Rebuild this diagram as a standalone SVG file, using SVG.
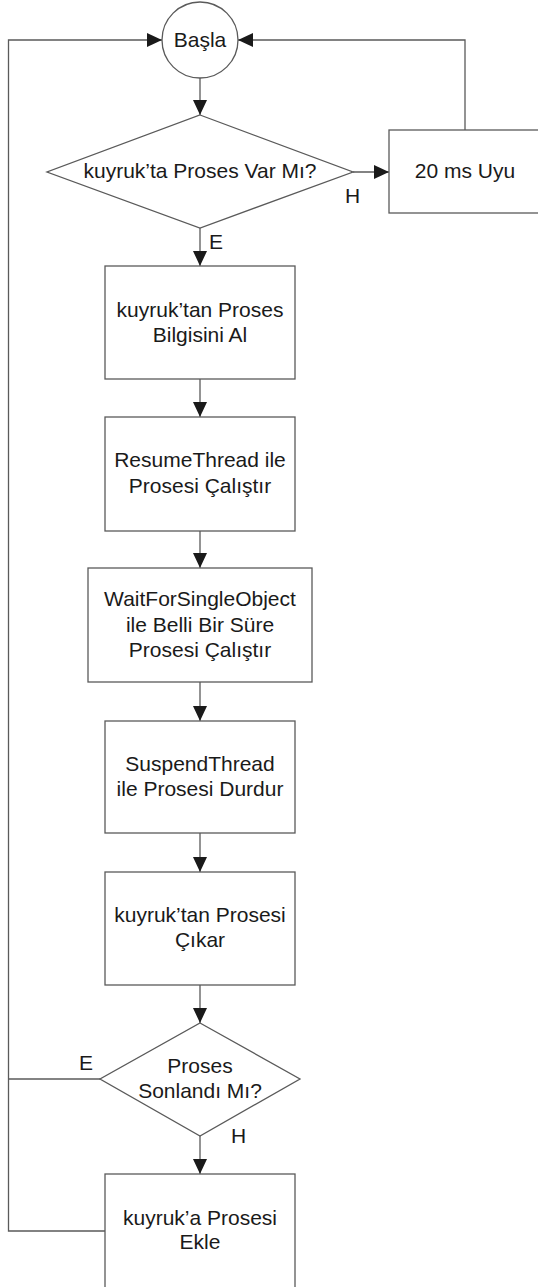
<svg xmlns="http://www.w3.org/2000/svg" width="538" height="1287" viewBox="0 0 538 1287">
<style>
.shape{fill:#ffffff;stroke:#5a5a5a;stroke-width:1.3}
.conn{fill:none;stroke:#5a5a5a;stroke-width:1.3}
.t{font-family:"Liberation Sans",Arial,sans-serif;font-size:21px;fill:#1a1a1a;text-anchor:middle}
.lbl{font-family:"Liberation Sans",Arial,sans-serif;font-size:21px;fill:#1a1a1a}
</style>
<defs>
<marker id="arr" viewBox="0 0 15 14" refX="15" refY="7" markerWidth="15" markerHeight="14" markerUnits="userSpaceOnUse" orient="auto">
<path d="M0,0 L15,7 L0,14 z" fill="#1a1a1a"/>
</marker>
</defs>
<rect width="538" height="1287" fill="#ffffff"/>
<g id="connectors">
<path class="conn" d="M200,78 V115" marker-end="url(#arr)"/>
<path class="conn" d="M353,172 H389" marker-end="url(#arr)"/>
<path class="conn" d="M465,130 V40 H238" marker-end="url(#arr)"/>
<path class="conn" d="M200,228 V266" marker-end="url(#arr)"/>
<path class="conn" d="M200,379 V417" marker-end="url(#arr)"/>
<path class="conn" d="M200,531 V568" marker-end="url(#arr)"/>
<path class="conn" d="M200,682 V721" marker-end="url(#arr)"/>
<path class="conn" d="M200,833 V872" marker-end="url(#arr)"/>
<path class="conn" d="M200,985 V1023" marker-end="url(#arr)"/>
<path class="conn" d="M200,1136 V1174" marker-end="url(#arr)"/>
<path class="conn" d="M100,1079 H8.5"/>
<path class="conn" d="M105,1231 H8.5 V40 H162" marker-end="url(#arr)"/>
<text class="lbl" x="345" y="203">H</text>
<text class="lbl" x="209" y="249">E</text>
<text class="lbl" x="79" y="1070">E</text>
<text class="lbl" x="231" y="1143">H</text>
</g>
<g id="start">
<circle class="shape" cx="200" cy="40" r="38"/>
<text class="t" x="200" y="47">Başla</text>
</g>
<g id="decision1">
<polygon class="shape" points="200,115 353,172 200,228 47,172"/>
<text class="t" x="200" y="178">kuyruk’ta Proses Var Mı?</text>
</g>
<g id="sleep">
<rect class="shape" x="389" y="130" width="152" height="83"/>
<text class="t" x="465" y="178">20 ms Uyu</text>
</g>
<g id="getinfo">
<rect class="shape" x="105" y="266" width="190" height="113"/>
<text class="t" x="200" y="317">kuyruk’tan Proses</text>
<text class="t" x="200" y="342">Bilgisini Al</text>
</g>
<g id="resume">
<rect class="shape" x="105" y="417" width="190" height="114"/>
<text class="t" x="200" y="467">ResumeThread ile</text>
<text class="t" x="200" y="493">Prosesi Çalıştır</text>
</g>
<g id="wait">
<rect class="shape" x="88" y="568" width="224" height="114"/>
<text class="t" x="200" y="606">WaitForSingleObject</text>
<text class="t" x="200" y="632">ile Belli Bir Süre</text>
<text class="t" x="200" y="657">Prosesi Çalıştır</text>
</g>
<g id="suspend">
<rect class="shape" x="105" y="721" width="190" height="112"/>
<text class="t" x="200" y="771">SuspendThread</text>
<text class="t" x="200" y="796">ile Prosesi Durdur</text>
</g>
<g id="remove">
<rect class="shape" x="105" y="872" width="190" height="113"/>
<text class="t" x="200" y="922">kuyruk’tan Prosesi</text>
<text class="t" x="200" y="947">Çıkar</text>
</g>
<g id="decision2">
<polygon class="shape" points="200,1023 300,1079 200,1136 100,1079"/>
<text class="t" x="200" y="1073">Proses</text>
<text class="t" x="200" y="1098">Sonlandı Mı?</text>
</g>
<g id="add">
<rect class="shape" x="105" y="1174" width="190" height="114"/>
<text class="t" x="200" y="1225">kuyruk’a Prosesi</text>
<text class="t" x="200" y="1249">Ekle</text>
</g>
</svg>
